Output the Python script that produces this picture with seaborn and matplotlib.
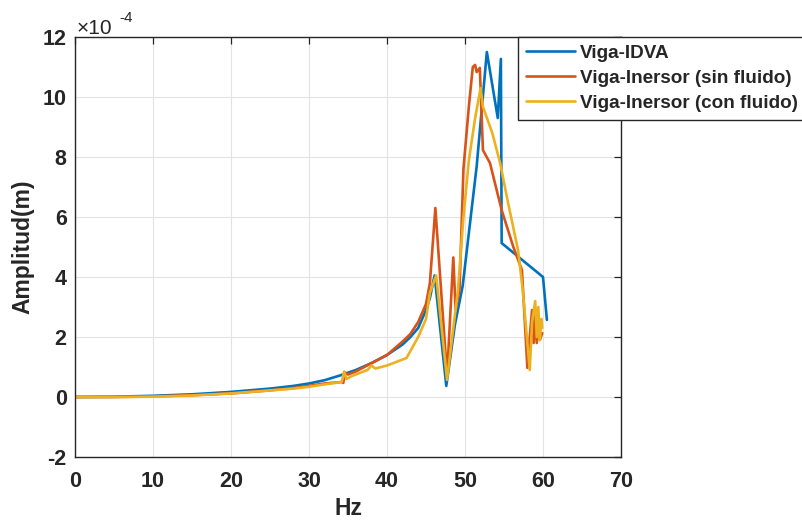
import numpy as np
import pandas as pd
import matplotlib
matplotlib.use("Agg")
import matplotlib.pyplot as plt
import seaborn as sns

# ---------------- data (amplitude in units of 1e-4 m) ----------------
series_names = ["Viga-IDVA", "Viga-Inersor (sin fluido)", "Viga-Inersor (con fluido)"]

idva_hz = [0, 5, 10, 15, 20, 25, 28, 30, 32, 34, 36, 38, 40, 42, 43, 44, 45, 45.5,
           46.1, 47.6, 48.7, 49.7, 50.6, 51.5, 52.8, 53.5, 54.2, 54.6, 54.7, 60.0, 60.5]
idva_amp = [0, 0.01, 0.04, 0.09, 0.17, 0.28, 0.37, 0.45, 0.56, 0.72, 0.9, 1.13, 1.4, 1.75, 2.0, 2.3, 2.9, 3.3,
            4.05, 0.37, 2.4, 3.7, 5.7, 7.7, 11.5, 10.4, 9.3, 11.27, 5.13, 4.0, 2.57]

sin_hz = [0, 5, 10, 15, 20, 25, 28, 30, 32, 34.2, 34.4, 34.6, 35, 36, 37.8, 38.2, 40, 42, 43, 44, 45, 45.5,
          46.2, 47.7, 48.5, 48.8, 49.3, 49.8, 50.5, 51.0, 51.3, 51.5, 51.9, 52.3, 53.2, 54.7, 56.2, 57.3,
          58.0, 58.3, 58.6, 58.8, 59.0, 59.2, 59.4, 59.6, 59.9]
sin_amp = [0, 0.0, 0.02, 0.06, 0.12, 0.22, 0.3, 0.37, 0.45, 0.5, 0.47, 0.82, 0.75, 0.85, 1.1, 1.15, 1.4, 1.85, 2.1, 2.5, 3.1, 3.8,
           6.3, 0.7, 4.65, 2.9, 3.6, 7.6, 9.7, 11.0, 11.07, 10.83, 10.97, 8.23, 7.8, 6.23, 5.0, 4.23,
           0.97, 2.0, 2.9, 1.8, 2.8, 1.8, 2.6, 1.9, 2.13]

con_hz = [0, 5, 10, 15, 20, 25, 28, 30, 32, 34.2, 34.5, 34.8, 35.5, 37.5, 38.0, 38.5, 40, 42.5, 44, 45, 45.5,
          46.3, 47.7, 48.5, 49.1, 49.8, 50.5, 51.3, 52.0, 52.3, 53.5, 54.5, 55.5, 56.8, 57.4,
          58.3, 58.6, 59.0, 59.2, 59.4, 59.6, 59.8, 59.9]
con_amp = [0, 0, 0.01, 0.05, 0.12, 0.22, 0.28, 0.34, 0.42, 0.5, 0.85, 0.6, 0.7, 0.9, 1.05, 0.95, 1.05, 1.3, 2.0, 2.6, 3.47,
           4.05, 0.57, 2.3, 3.57, 6.0, 7.9, 9.3, 10.3, 9.67, 8.8, 7.8, 6.5, 4.9, 3.57,
           0.9, 2.5, 3.2, 2.0, 3.0, 1.9, 2.6, 2.3]

colors = ["#0072BD", "#D95319", "#EDB120"]
x_ticks = [0, 10, 20, 30, 40, 50, 60, 70]
y_ticks = [-2, 0, 2, 4, 6, 8, 10, 12]

df = pd.concat([
    pd.DataFrame({"Hz": idva_hz, "amp": idva_amp, "serie": series_names[0]}),
    pd.DataFrame({"Hz": sin_hz, "amp": sin_amp, "serie": series_names[1]}),
    pd.DataFrame({"Hz": con_hz, "amp": con_amp, "serie": series_names[2]}),
], ignore_index=True)

# ---------------- style ----------------
sns.set_style("white")
plt.rcParams["font.family"] = ["Liberation Sans", "DejaVu Sans"]
dark = "#262626"

fig = plt.figure(figsize=(8.02, 5.2), dpi=100)
ax = fig.add_axes([75 / 802, 1 - 457 / 520, (621 - 75) / 802, (457 - 37) / 520])

sns.lineplot(data=df, x="Hz", y="amp", hue="serie", hue_order=series_names,
             palette=colors, estimator=None, sort=False, linewidth=1.9,
             legend=False, ax=ax)

ax.set_xlim(0, 70)
ax.set_ylim(-2, 12)
ax.set_xticks(x_ticks)
ax.set_yticks(y_ticks)
ax.set_xticklabels([str(t) for t in x_ticks])
ax.set_yticklabels([str(t) for t in y_ticks])
ax.grid(True, color="#e3e3e3", linewidth=0.8)
ax.set_axisbelow(True)
for sp in ax.spines.values():
    sp.set_color(dark)
    sp.set_linewidth(1.0)
    sp.set_visible(True)
ax.tick_params(direction="in", top=True, right=True, length=5, width=0.9,
               colors=dark, labelsize=15.5)
ax.tick_params(axis="x", pad=10)
ax.tick_params(axis="y", pad=6)
for lab in ax.get_xticklabels() + ax.get_yticklabels():
    lab.set_fontweight("bold")
    lab.set_color(dark)

ax.set_xlabel("Hz", fontsize=16.5, fontweight="bold", color=dark, labelpad=4)
ax.set_ylabel("Amplitud(m)", fontsize=16.5, fontweight="bold", color=dark, labelpad=6)

fig.text(77 / 802, 1 - 34 / 520, "×10", fontsize=15, color=dark, ha="left", va="baseline")
fig.text(119 / 802, 1 - 22 / 520, "-4", fontsize=11, color=dark, ha="left", va="baseline")

leg = ax.legend(handles=ax.lines[:3], labels=series_names, loc="upper left",
                bbox_to_anchor=(518 / 802, 1 - 37 / 520), bbox_transform=fig.transFigure,
                borderaxespad=0, borderpad=0.4, handlelength=2.6, handletextpad=0.3,
                labelspacing=0.42, fancybox=False, framealpha=1,
                prop={"family": "Liberation Sans", "weight": "bold", "size": 13.6})
leg.get_frame().set_edgecolor(dark)
leg.get_frame().set_linewidth(1.0)

fig.savefig("out.png", dpi=100)
